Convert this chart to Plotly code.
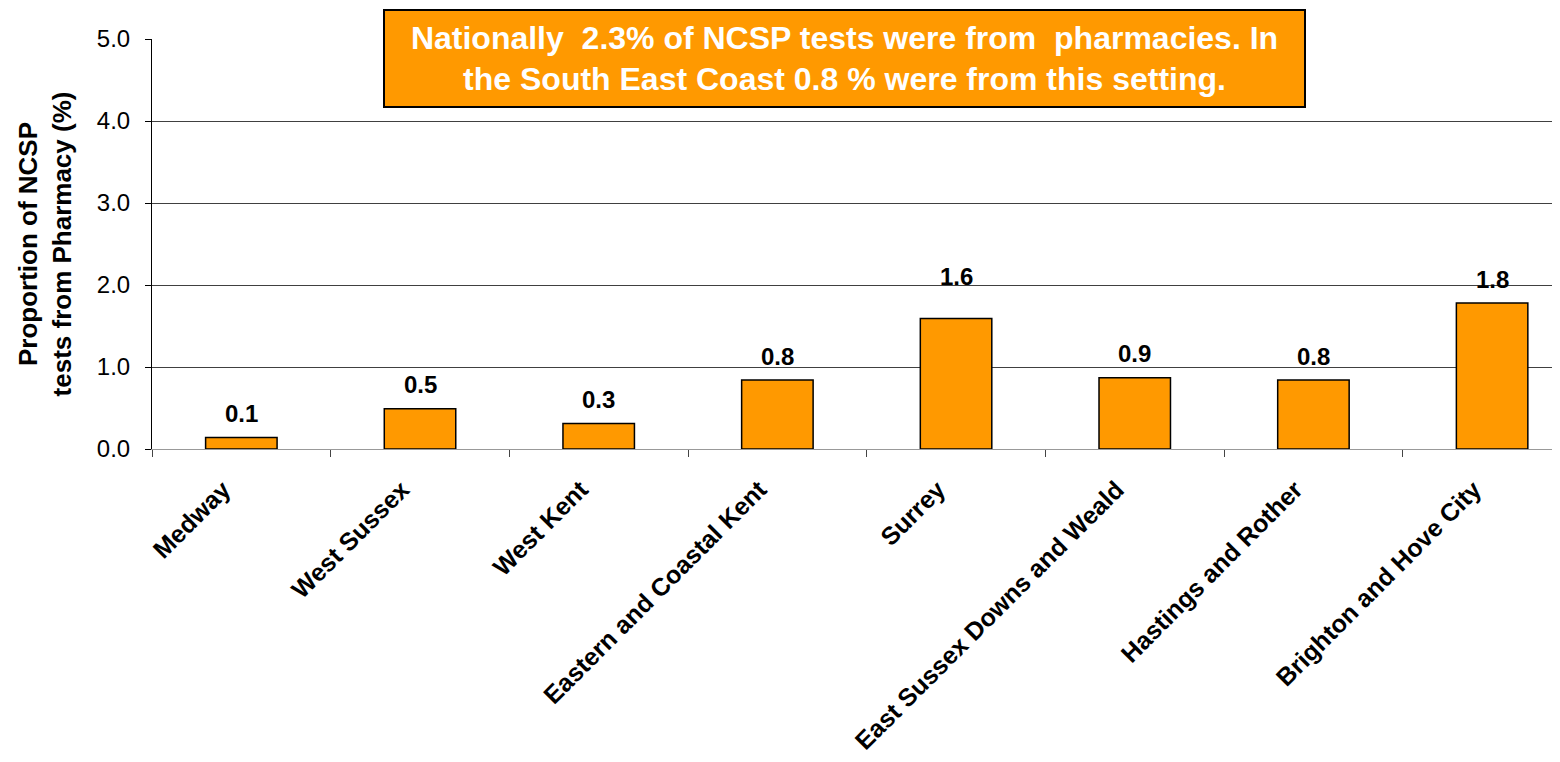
import plotly.graph_objects as go

categories = ["Medway", "West Sussex", "West Kent", "Eastern and Coastal Kent",
              "Surrey", "East Sussex Downs and Weald", "Hastings and Rother",
              "Brighton and Hove City"]
values = [0.14, 0.49, 0.31, 0.84, 1.59, 0.87, 0.84, 1.78]
label_shift = [24, 24, 24, 24, 42, 24, 24, 24]
y_ticks = [0.0, 1.0, 2.0, 3.0, 4.0, 5.0]
y_title = "Proportion of NCSP<br>tests from Pharmacy (%)"
box_text = ("Nationally  2.3% of NCSP tests were from  pharmacies. In<br>"
            "the South East Coast 0.8 % were from this setting.")

FONT = "Arial, 'Liberation Sans', sans-serif"
ORANGE = "#FF9900"

fig = go.Figure()
fig.add_trace(go.Bar(
    x=categories, y=values,
    marker=dict(color=ORANGE, line=dict(color="black", width=1.5)),
    hoverinfo="x+y",
))

for c, v, s in zip(categories, values, label_shift):
    fig.add_annotation(x=c, y=v, xref="x", yref="y", text=f"{v:.1f}",
                       showarrow=False, yanchor="middle", yshift=s,
                       font=dict(family=FONT, size=24, color="black",
                                 weight="bold"))

fig.add_annotation(
    x=0.4918, y=0.953, xref="paper", yref="paper",
    xanchor="center", yanchor="middle",
    text=box_text, showarrow=False, align="center",
    font=dict(family=FONT, size=32, color="white", weight="bold"),
    bgcolor=ORANGE, bordercolor="black", borderwidth=2, borderpad=0,
    width=919, height=95,
)

# the page body has an 8px default margin, so the figure is sized to fit
fig.update_layout(
    width=1552, height=754,
    margin=dict(l=144, r=0, t=31, b=313, autoexpand=False),
    paper_bgcolor="white", plot_bgcolor="white",
    bargap=0.6, showlegend=False,
    font=dict(family=FONT, color="black"),
)
fig.update_xaxes(
    type="category", range=[-0.5, 7.38], automargin=False,
    tickson="boundaries", ticks="outside", ticklen=7, tickcolor="#444",
    showline=True, linecolor="#999", linewidth=1,
    tickangle=-45, ticklabelshift=-18, ticklabelstandoff=15,
    tickfont=dict(family=FONT, size=25, color="black", weight="bold"),
    showgrid=False,
)
fig.update_yaxes(
    range=[0, 5], tickvals=y_ticks, tickformat=".1f", automargin=False,
    ticks="outside", ticklen=6, tickcolor="black",
    showline=True, linecolor="black", linewidth=1,
    showgrid=True, gridcolor="#404040", gridwidth=1, zeroline=False,
    tickfont=dict(family=FONT, size=24, color="black"),
    ticklabelstandoff=10,
    title=dict(text=y_title, standoff=17,
               font=dict(family=FONT, size=26, color="black", weight="bold")),
)

fig.write_html("out.html")
